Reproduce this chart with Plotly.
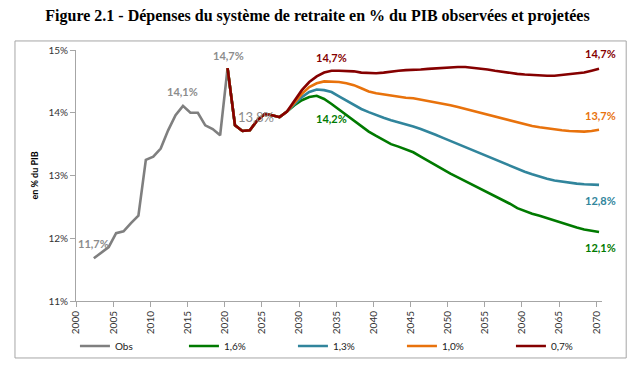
import plotly.graph_objects as go

# ---------------- data ----------------
obs_years = list(range(2002, 2022))
obs_vals = [11.68, 11.77, 11.86, 12.08, 12.11, 12.24, 12.36, 13.25, 13.30, 13.43,
            13.72, 13.96, 14.11, 14.00, 14.00, 13.80, 13.74, 13.64, 14.71, 13.80]

proj_years = list(range(2020, 2071))
common = [14.71, 13.80, 13.71, 13.72, 13.88, 13.98, 13.96, 13.93, 14.02]  # 2020-2028

g16 = common + [14.12, 14.20, 14.25, 14.27, 14.22, 14.14, 14.05, 13.96, 13.87, 13.78,
                13.70, 13.63, 13.56, 13.50, 13.46, 13.42, 13.37, 13.30, 13.23, 13.17,
                13.10, 13.03, 12.97, 12.91, 12.85, 12.79, 12.74, 12.68, 12.62, 12.55,
                12.48, 12.43, 12.39, 12.36, 12.32, 12.28, 12.24, 12.20, 12.17, 12.14,
                12.12, 12.10]
g13 = common + [14.14, 14.25, 14.33, 14.37, 14.36, 14.33, 14.26, 14.19, 14.12, 14.06,
                14.01, 13.96, 13.92, 13.88, 13.85, 13.82, 13.78, 13.74, 13.70, 13.65,
                13.60, 13.55, 13.50, 13.45, 13.40, 13.35, 13.30, 13.25, 13.20, 13.15,
                13.10, 13.06, 13.02, 12.98, 12.95, 12.92, 12.90, 12.88, 12.87, 12.86,
                12.85, 12.85]
g10 = common + [14.16, 14.30, 14.41, 14.47, 14.50, 14.50, 14.49, 14.47, 14.44, 14.39,
                14.34, 14.31, 14.29, 14.27, 14.25, 14.24, 14.23, 14.21, 14.19, 14.17,
                14.15, 14.12, 14.09, 14.06, 14.03, 13.99, 13.96, 13.93, 13.90, 13.87,
                13.84, 13.82, 13.79, 13.77, 13.75, 13.73, 13.72, 13.71, 13.70, 13.70,
                13.71, 13.73]
g07 = common + [14.19, 14.36, 14.49, 14.58, 14.64, 14.67, 14.67, 14.67, 14.66, 14.64,
                14.63, 14.63, 14.64, 14.66, 14.67, 14.68, 14.68, 14.69, 14.70, 14.71,
                14.72, 14.72, 14.73, 14.73, 14.72, 14.71, 14.69, 14.67, 14.65, 14.63,
                14.62, 14.61, 14.60, 14.59, 14.59, 14.59, 14.60, 14.61, 14.62, 14.64,
                14.67, 14.70]

series_names = ["Obs", "1,6%", "1,3%", "1,0%", "0,7%"]
colors = ["#7F7F7F", "#007A00", "#31859C", "#E8720C", "#850000"]

tick_years = list(range(2000, 2071, 5))
tick_labels = [str(y) for y in tick_years]
y_ticks = [11, 12, 13, 14, 15]
y_tick_labels = ["11%", "12%", "13%", "14%", "15%"]

title = "Figure 2.1 - Dépenses du système de retraite en % du PIB observées et projetées"
y_title = "en % du PIB"

# ---------------- figure ----------------
FONT = "Lato"
fig = go.Figure()
fig.add_trace(go.Scatter(x=obs_years, y=obs_vals, name=series_names[0], mode="lines",
                         line=dict(color=colors[0], width=2.6)))
for name, vals, col in zip(series_names[1:], [g16, g13, g10, g07], colors[1:]):
    fig.add_trace(go.Scatter(x=proj_years, y=vals, name=name, mode="lines",
                             line=dict(color=col, width=2.6)))

def lab(x, y, text, color, xs=0, ys=0, size=11, bold=True):
    fig.add_annotation(x=x, y=y, xref="x", yref="y", text=("<b>%s</b>" % text) if bold else text,
                       showarrow=False, xshift=xs, yshift=ys,
                       font=dict(family=FONT, size=size, color=color))

gray = "#8C8C8C"
lab(2002, obs_vals[0], "11,7%", gray, 0, 15)
lab(2014, obs_vals[12], "14,1%", gray, 0, 14)
lab(2020, obs_vals[18], "14,7%", gray, 1, 13)
lab(2021, obs_vals[19], "13,8%", gray, 21, 8, size=13, bold=False)
lab(2034, g07[14], "14,7%", colors[4], 0, 13)
lab(2034, g16[14], "14,2%", colors[1], 0, -15)
lab(2070, g07[-1], "14,7%", colors[4], 1, 15)
lab(2070, g10[-1], "13,7%", colors[3], 1, 14)
lab(2070, g13[-1], "12,8%", colors[2], 1, -16)
lab(2070, g16[-1], "12,1%", colors[1], 1, -16)

# outer frame
fig.add_shape(type="rect", xref="paper", yref="paper",
              x0=-0.116, x1=1.046, y0=-0.227, y1=1.036,
              line=dict(color="#A6A6A6", width=1), fillcolor="rgba(0,0,0,0)", layer="below")

fig.update_layout(
    width=635, height=365,
    margin=dict(l=76, r=33, t=50, b=64, autoexpand=False),
    paper_bgcolor="white", plot_bgcolor="white",
    font=dict(family=FONT, size=10, color="#333333"),
    title=dict(text="<b>%s</b>" % title, x=0.5, xref="container", xanchor="center",
               y=1 - 15 / 365, yref="container", yanchor="middle",
               font=dict(family="Liberation Serif", size=16, color="black")),
    showlegend=True,
    legend=dict(orientation="h", xref="paper", x=-0.002, xanchor="left",
                yref="paper", y=-45 / 251, yanchor="middle",
                entrywidth=64, font=dict(family=FONT, size=10, color="#222222"),
                bgcolor="rgba(0,0,0,0)", tracegroupgap=0),
    xaxis=dict(range=[1999.6, 2070.4], tickvals=[y - 0.37 for y in tick_years],
               ticktext=tick_labels, tickangle=-90, showgrid=False, zeroline=False,
               showline=True, linecolor="#A6A6A6", linewidth=1,
               ticks="outside", ticklen=5, tickcolor="#A6A6A6",
               tickfont=dict(family=FONT, size=10, color="#333333")),
    yaxis=dict(range=[11, 15], tickvals=y_ticks, ticktext=y_tick_labels,
               showgrid=False, zeroline=False, showline=True, linecolor="#A6A6A6",
               linewidth=1, ticks="outside", ticklen=5, tickcolor="#A6A6A6",
               tickfont=dict(family=FONT, size=10, color="#333333"),
               title=dict(text="<b>%s</b>" % y_title, standoff=8,
                          font=dict(family=FONT, size=9, color="black"))),
)

fig.write_html("out.html", config={"displayModeBar": False},
               post_script="document.body.style.margin='0';")
